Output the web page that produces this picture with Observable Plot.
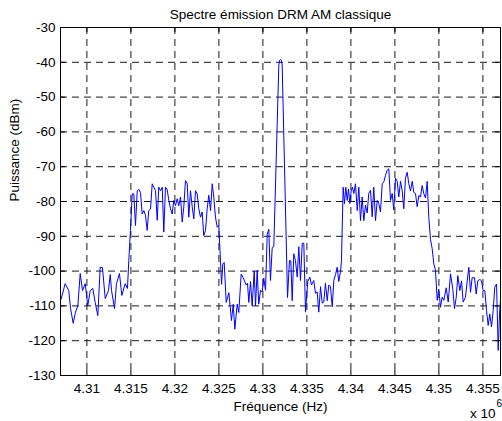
<!DOCTYPE html>
<html>
<head>
<meta charset="utf-8">
<script src="https://cdn.jsdelivr.net/npm/d3@7"></script>
<script src="https://cdn.jsdelivr.net/npm/@observablehq/plot@0.6"></script>
<style>
  html, body { margin: 0; padding: 0; background: #fff; }
  #chart svg { display: block; }
</style>
</head>
<body>
<div id="chart"></div>
<script>
// ---- Data (frequency in units of 1e6 Hz, power in dBm) ----
const title = "Spectre émission DRM AM classique";
const xLabel = "Fréquence (Hz)";
const yLabel = "Puissance (dBm)";
const xExponentBase = "x 10";
const xExponent = "6";

const xTicks = [4.31, 4.315, 4.32, 4.325, 4.33, 4.335, 4.34, 4.345, 4.35, 4.355];
const xTickLabels = ["4.31", "4.315", "4.32", "4.325", "4.33", "4.335", "4.34", "4.345", "4.35", "4.355"];
const yTicks = [-30, -40, -50, -60, -70, -80, -90, -100, -110, -120, -130];
const yTickLabels = ["-30", "-40", "-50", "-60", "-70", "-80", "-90", "-100", "-110", "-120", "-130"];

const leftNoise = [
  [4.30708,-108],[4.30753,-103.6],[4.30794,-105.6],[4.30814,-110.7],[4.30844,-115],[4.30870,-111.8],
  [4.30897,-110],[4.30924,-100.7],[4.30950,-105.6],[4.30981,-103.6],[4.31010,-110],[4.31038,-105.6],
  [4.31067,-105],[4.31094,-109],[4.31124,-112.8],[4.31151,-98.9],[4.31177,-99],[4.31208,-107.9],
  [4.31245,-105.6],[4.31265,-101],[4.31280,-105.6],[4.31314,-110.8],[4.31336,-103.6],[4.31370,-100.7],
  [4.31397,-107],[4.31435,-103.6],[4.31461,-105],[4.31476,-97],[4.31495,-88.3]
];
const leftBand = [
  [4.31515,-77.8],[4.31533,-77.8],[4.31552,-86.9],[4.31572,-76.9],[4.31590,-76.5],[4.31609,-77.4],
  [4.31628,-83.6],[4.31647,-82.6],[4.31666,-84],[4.31685,-88.3],[4.31703,-82.6],[4.31723,-82.2],
  [4.31742,-74.9],[4.31760,-75.9],[4.31780,-76.9],[4.31799,-85.4],[4.31817,-75.9],[4.31836,-76.9],
  [4.31856,-75.9],[4.31874,-88.8],[4.31893,-75.9],[4.31912,-76.5],[4.31931,-79.7],[4.31950,-82.1],
  [4.31969,-83.6],[4.31987,-79.7],[4.32007,-81.2],[4.32026,-79.2],[4.32044,-81.2],[4.32064,-78.7],
  [4.32083,-85.9],[4.32101,-81.6],[4.32120,-74],[4.32140,-74.9],[4.32158,-84.5],[4.32177,-76.9],
  [4.32197,-81.6],[4.32215,-85],[4.32234,-76.9],[4.32253,-77.8],[4.32272,-82.1],[4.32291,-84.5],
  [4.32310,-83],[4.32328,-89.8],[4.32348,-88.3],[4.32367,-82.1],[4.32385,-78.2],[4.32405,-82.6],
  [4.32424,-74.9],[4.32442,-78.7],[4.32461,-84.5],[4.32481,-87.4],[4.32499,-86.9]
];
const middleNoiseLeft = [
  [4.32518,-97],[4.32530,-103.8],[4.32544,-98],[4.32560,-97.5],[4.32583,-109],[4.32613,-106.2],
  [4.32643,-114.2],[4.32663,-109.5],[4.32681,-116.7],[4.32708,-109.5],[4.32726,-111.9],[4.32753,-100.9],
  [4.32776,-101.9],[4.32794,-103],[4.32810,-104],[4.32825,-103.5],[4.32840,-109],[4.32859,-103],
  [4.32878,-110],[4.32901,-100],[4.32916,-110],[4.32935,-99.8],[4.32953,-109.5],[4.32973,-105.5],
  [4.32992,-106],[4.33010,-102],[4.33030,-105.5],[4.33049,-89.4],[4.33067,-88],[4.33086,-102.7],
  [4.33106,-93.2],[4.33124,-93]
];
const carrier = [
  [4.33181,-40.8],[4.33191,-39.4],[4.33200,-39.2],[4.33209,-39.4],[4.33219,-40.8],[4.33280,-107.6]
];
const middleNoiseRight = [
  [4.33302,-97],[4.33317,-97],[4.33333,-108.5],[4.33351,-95],[4.33370,-97],[4.33390,-101.7],
  [4.33408,-93],[4.33427,-102.7],[4.33447,-92],[4.33465,-92],[4.33484,-111.8],[4.33510,-103],
  [4.33533,-101.7],[4.33552,-104],[4.33578,-102.7],[4.33598,-106.4],[4.33617,-106],[4.33635,-111.8],
  [4.33655,-104.5],[4.33674,-109.2],[4.33692,-108.9],[4.33711,-103.5],[4.33731,-108.5],[4.33749,-104],
  [4.33768,-104.5],[4.33788,-110.3],[4.33806,-102.7],[4.33825,-101],[4.33844,-98.9],[4.33862,-103],
  [4.33882,-100],[4.33893,-97]
];
const rightBand = [
  [4.33912,-75.9],[4.33927,-80.6],[4.33942,-75.9],[4.33958,-79.7],[4.33973,-76.4],[4.33988,-80.6],
  [4.34003,-77],[4.34018,-75.9],[4.34033,-77.7],[4.34052,-74.9],[4.34072,-82.6],[4.34090,-75.9],
  [4.34109,-85.5],[4.34128,-78.7],[4.34147,-85.5],[4.34166,-81],[4.34185,-83.3],[4.34203,-77.7],
  [4.34223,-76.8],[4.34242,-84.4],[4.34260,-75.9],[4.34280,-85.5],[4.34299,-79.7],[4.34317,-80.6],
  [4.34336,-83],[4.34356,-74.9],[4.34374,-74.4],[4.34393,-72.5],[4.34412,-71],[4.34431,-70.6],
  [4.34450,-79.7],[4.34469,-77.7],[4.34487,-82.4],[4.34507,-73.3],[4.34526,-74.2],[4.34544,-78.7],
  [4.34564,-74.2],[4.34583,-77],[4.34601,-82.1],[4.34620,-73.3],[4.34640,-71.6],[4.34658,-74.9],
  [4.34677,-77],[4.34697,-74.2],[4.34715,-77.4],[4.34734,-77.7],[4.34753,-81.5],[4.34772,-78.3],
  [4.34791,-78.7],[4.34810,-75.4],[4.34828,-77.7],[4.34848,-79],[4.34867,-74.2],[4.34885,-84.4]
];
const rightNoise = [
  [4.34905,-91],[4.34924,-93.6],[4.34942,-97.9],[4.34961,-99.7],[4.34981,-108.4],[4.34999,-105.2],
  [4.35018,-110.4],[4.35037,-107.5],[4.35056,-108.4],[4.35083,-104.8],[4.35106,-108.9],[4.35132,-100.8],
  [4.35158,-105.2],[4.35177,-110.8],[4.35197,-107.5],[4.35215,-101.3],[4.35238,-105.6],[4.35257,-102.8],
  [4.35276,-108.9],[4.35302,-107.5],[4.35322,-102.8],[4.35340,-98.9],[4.35359,-106.1],[4.35378,-101.9],
  [4.35405,-101.9],[4.35424,-106.6],[4.35442,-102.8],[4.35465,-102.4],[4.35484,-102.8],[4.35503,-105.6],
  [4.35522,-105.6],[4.35541,-111.3],[4.35560,-115.6],[4.35578,-112.3],[4.35598,-116],[4.35617,-111.3],
  [4.35635,-104.6],[4.35655,-103.7],[4.35674,-122.8],[4.35689,-112.3],[4.35700,-108.4]
];

const spectrum = [...leftNoise, ...leftBand, ...middleNoiseLeft, ...carrier, ...middleNoiseRight, ...rightBand, ...rightNoise]
  .map(([f, p]) => ({f, p}));

// ---- Layout ----
const W = 502, H = 421;
const mL = 60, mR = 2, mT = 27, mB = 46;
const frameW = W - mL - mR, frameH = H - mT - mB;
const tickLen = 5;
const font = "'Liberation Sans', Arial, Helvetica, sans-serif";
const fs = 13.5;

const chart = Plot.plot({
  width: W,
  height: H,
  marginLeft: mL, marginRight: mR, marginTop: mT, marginBottom: mB,
  style: {fontFamily: font, fontSize: fs + "px", background: "#fff", color: "#000", overflow: "visible"},
  x: {domain: [4.307, 4.357]},
  y: {domain: [-130, -30]},
  marks: [
    // dashed grid
    Plot.ruleX(xTicks, {x: d => d, stroke: "#1a1a1a", strokeWidth: 1, strokeDasharray: "7,5"}),
    Plot.ruleY(yTicks.filter(d => d !== -30 && d !== -130), {y: d => d, stroke: "#1a1a1a", strokeWidth: 1, strokeDasharray: "7,5"}),
    // spectrum
    Plot.line(spectrum, {x: "f", y: "p", stroke: "#0000ff", strokeWidth: 1}),
    // inward ticks on four sides
    Plot.tickX(xTicks, {x: d => d, insetTop: frameH - tickLen, stroke: "#000"}),
    Plot.tickX(xTicks, {x: d => d, insetBottom: frameH - tickLen, stroke: "#000"}),
    Plot.tickY(yTicks, {y: d => d, insetRight: frameW - tickLen, stroke: "#000"}),
    Plot.tickY(yTicks, {y: d => d, insetLeft: frameW - tickLen, stroke: "#000"}),
    Plot.frame({stroke: "#000", strokeWidth: 1}),
    // axes labels
    Plot.axisX(xTicks, {tickSize: 0, tickPadding: 8, tickFormat: d => xTickLabels[xTicks.indexOf(d)], label: null, fontSize: fs}),
    Plot.axisY(yTicks, {tickSize: 0, tickPadding: 5, tickFormat: d => yTickLabels[yTicks.indexOf(d)], label: null, fontSize: fs}),
    // title & axis titles
    Plot.text([title], {text: d => d, frameAnchor: "top", dy: -13, lineAnchor: "middle", fontSize: fs, fill: "#000"}),
    Plot.text([yLabel], {text: d => d, frameAnchor: "left", rotate: -90, dx: -46, lineAnchor: "middle", fontSize: fs, fill: "#000"}),
    Plot.text([xLabel], {text: d => d, frameAnchor: "bottom", dy: 31.5, lineAnchor: "middle", fontSize: fs, fill: "#000"}),
    Plot.text([xExponentBase], {text: d => d, frameAnchor: "bottom-right", dx: -5, dy: 38, textAnchor: "end", lineAnchor: "middle", fontSize: fs, fill: "#000"}),
    Plot.text([xExponent], {text: d => d, frameAnchor: "bottom-right", dx: -4, dy: 28.5, textAnchor: "start", lineAnchor: "middle", fontSize: 10, fill: "#000"})
  ]
});
document.getElementById("chart").appendChild(chart);
</script>
</body>
</html>
